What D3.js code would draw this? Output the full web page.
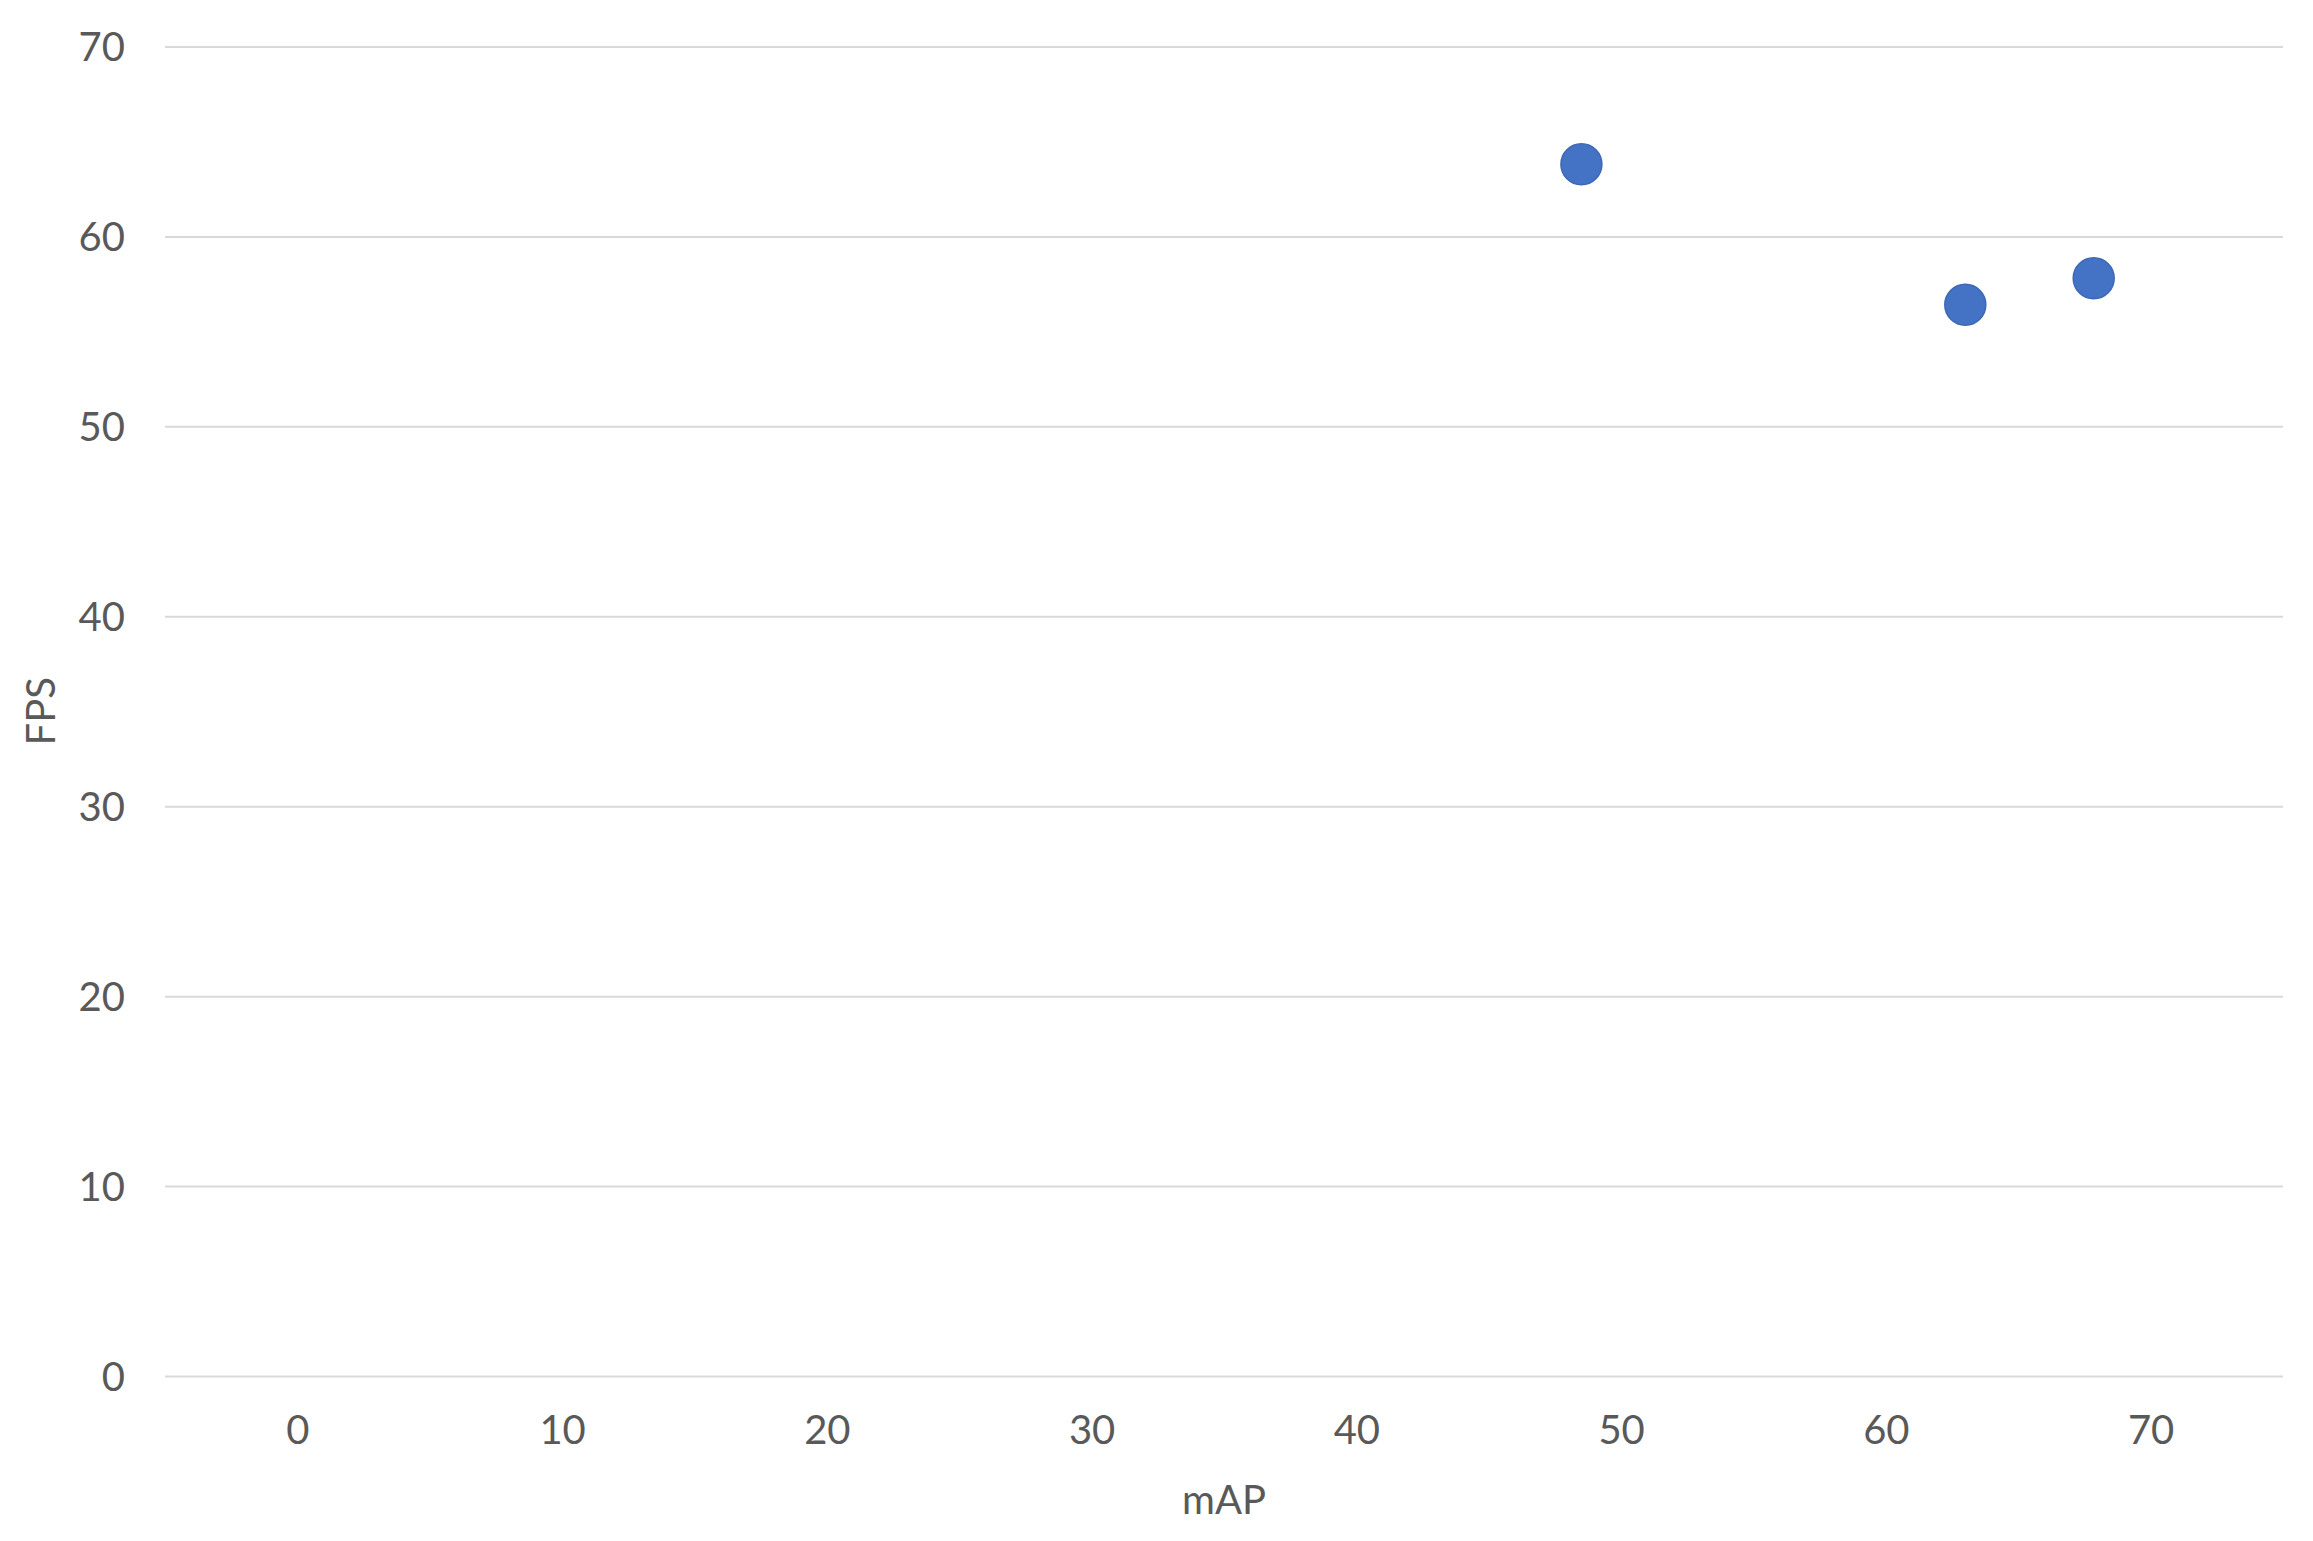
<!DOCTYPE html>
<meta charset="utf-8">

<!-- Load d3.js -->
<script src="https://d3js.org/d3.v7.min.js"></script>

<style>
  body { margin: 0; background: #fff; }
  .tick text { font-family: Lato, "Open Sans", sans-serif; fill: #595959; }
</style>

<!-- Create a div where the graph will take place -->
<div id="my_dataviz"></div>

<script>

    // data
    var mAP = [48.5, 63.0, 67.85];
    var fps = [63.8, 56.4, 57.8];
    var xTicks = [0, 10, 20, 30, 40, 50, 60, 70];
    var yTicks = [0, 10, 20, 30, 40, 50, 60, 70];

    // set the dimensions and margins of the graph
    var margin = {top: 46.5, right: 30, bottom: 165, left: 165},
        width = 2313 - margin.left - margin.right,
        height = 1541 - margin.top - margin.bottom;

    var svg = d3.select("#my_dataviz")
      .append("svg")
        .attr("width", width + margin.left + margin.right)
        .attr("height", height + margin.top + margin.bottom)
      .append("g")
        .attr("transform", "translate(" + margin.left + "," + margin.top + ")");

    var data = mAP.map(function(d, i) { return {x: d, y: fps[i]}; });

    // X axis
    var x = d3.scaleLinear()
      .domain([-5, 75])
      .range([0, width]);

    // Y axis
    var y = d3.scaleLinear()
      .domain([0, 70])
      .range([height, 0]);

    // horizontal gridlines + y labels
    var yAxis = svg.append("g")
      .call(d3.axisLeft(y).tickValues(yTicks).tickSize(-width).tickPadding(40));
    yAxis.select(".domain").remove();
    yAxis.selectAll(".tick line")
      .attr("stroke", "#d9d9d9")
      .attr("stroke-width", 2);
    yAxis.selectAll(".tick text")
      .attr("font-size", 40)
      .attr("x", -40)
      .attr("dy", "0.35em");

    var xAxis = svg.append("g")
      .attr("transform", "translate(0," + height + ")")
      .call(d3.axisBottom(x).tickValues(xTicks).tickSize(0).tickPadding(0));
    xAxis.select(".domain").remove();
    xAxis.selectAll(".tick text")
      .attr("font-size", 40)
      .attr("y", 54)
      .attr("dy", "0.35em");

    // axis titles
    svg.append("text")
      .attr("x", width / 2)
      .attr("y", height + 124)
      .attr("dy", "0.35em")
      .attr("text-anchor", "middle")
      .attr("font-family", "Lato, 'Open Sans', sans-serif")
      .attr("font-size", 40)
      .attr("fill", "#595959")
      .text("mAP");

    svg.append("text")
      .attr("transform", "translate(" + (40.5 - margin.left) + "," + (height / 2) + ") rotate(-90)")
      .attr("dy", "0.35em")
      .attr("text-anchor", "middle")
      .attr("font-family", "Lato, 'Open Sans', sans-serif")
      .attr("font-size", 40)
      .attr("fill", "#595959")
      .text("FPS");

    // the points
    svg.append("g")
      .selectAll("circle")
      .data(data)
      .enter()
      .append("circle")
        .attr("cx", function(d) { return x(d.x); })
        .attr("cy", function(d) { return y(d.y); })
        .attr("r", 20.5)
        .attr("fill", "#4472c4")
        .attr("stroke", "#3d68b5")
        .attr("stroke-width", 1.5);

</script>
